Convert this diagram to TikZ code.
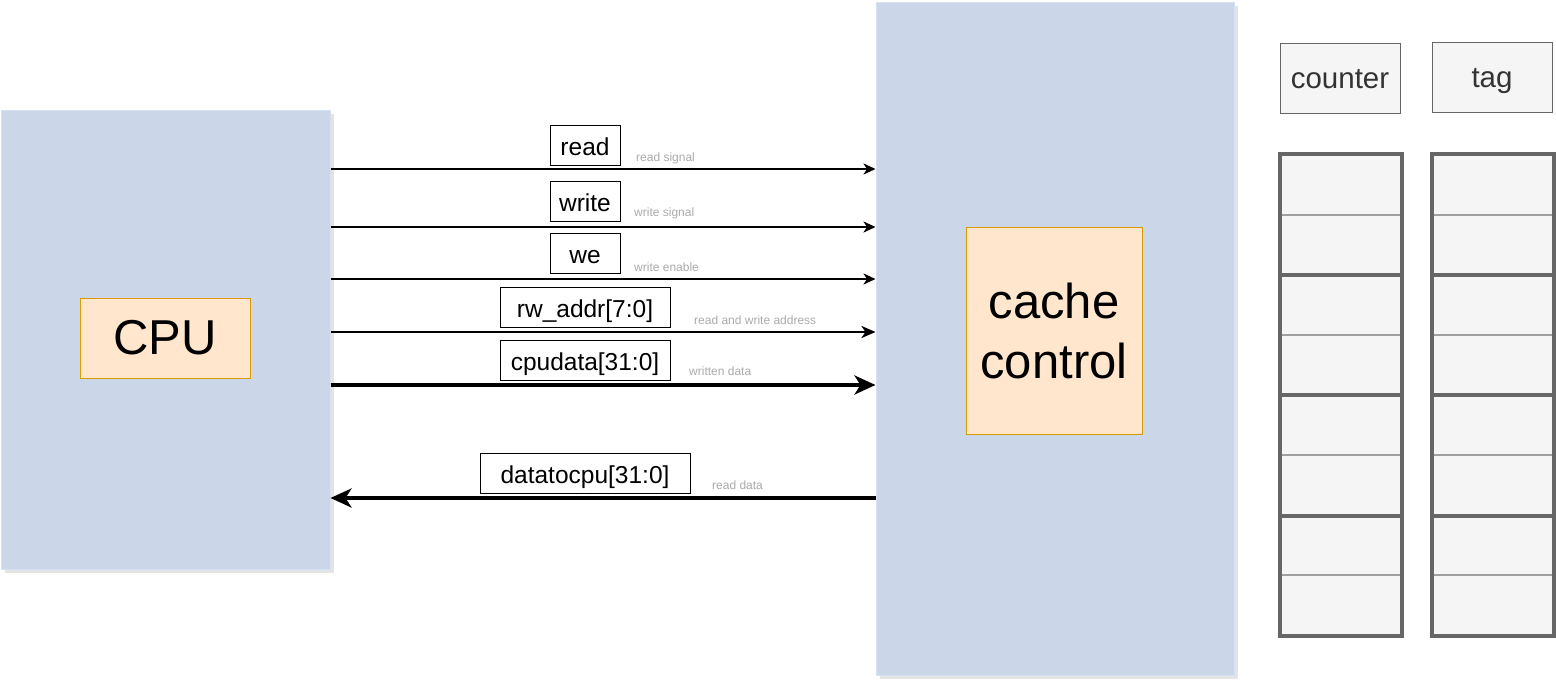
\documentclass[tikz,border=0pt]{standalone}
\usepackage{fontspec}
\setmainfont{Liberation Sans}
\usetikzlibrary{arrows.meta}
\definecolor{blk}{RGB}{203,214,232}
\definecolor{blkedge}{RGB}{214,225,243}
\definecolor{orfill}{RGB}{255,230,204}
\definecolor{oredge}{RGB}{215,155,0}
\definecolor{cellfill}{RGB}{245,245,245}
\definecolor{celledge}{RGB}{102,102,102}
\definecolor{thinline}{RGB}{160,160,160}
\definecolor{note}{RGB}{170,170,170}
\definecolor{shadow}{RGB}{228,228,228}
\tikzset{
  block/.style={rectangle, fill=blk, draw=blkedge, line width=1pt, inner sep=0pt},
  inbox/.style={rectangle, fill=orfill, draw=oredge, line width=1pt, inner sep=0pt, align=center},
  lbl/.style={rectangle, fill=white, draw=black, line width=1pt, inner sep=0pt, minimum height=40pt, text height=22pt, text depth=2pt, font=\fontsize{24.5}{28}\selectfont},
  notetxt/.style={inner sep=0pt, text=note, font=\fontsize{12}{14}\selectfont, anchor=west},
  hdr/.style={rectangle, fill=cellfill, draw=celledge, line width=1pt, inner sep=0pt, minimum width=120pt, minimum height=70pt, text height=24.5pt, text depth=3pt, text=black!80, font=\fontsize{29.5}{34}\selectfont},
  sig/.style={line width=2pt, -{Stealth[length=12pt,width=11pt,inset=3.5pt]}},
  bus/.style={line width=2.8pt, -{Stealth[length=14pt,width=12pt,inset=4pt]}},
  bigbus/.style={line width=4.2pt, -{Stealth[length=21pt,width=19pt,inset=6pt]}},
  grp/.style={draw=celledge, line width=4pt},
  cellsep/.style={draw=thinline, line width=1.5pt},
}
\begin{document}
\begin{tikzpicture}[x=1pt,y=-1pt]
\useasboundingbox (0,0) rectangle (1556,680);
% shadows
\fill[shadow] (5,114) rectangle (334,573);
\fill[shadow] (880,6) rectangle (1238,679);
% main blocks
\node[block, minimum width=329pt, minimum height=459pt] (cpu) at (165.5,339.5) {};
\node[block, minimum width=358pt, minimum height=673pt] (cc) at (1055,338.5) {};
\node[inbox, minimum width=170pt, minimum height=80pt, font=\fontsize{49}{56}\selectfont] (cpuin) at (165,338) {CPU};
\node[inbox, minimum width=176pt, minimum height=207pt, font=\fontsize{49}{60}\selectfont] (ccin) at (1054,330.5) {cache\\control};
% signals
\draw[sig] (cpu.east |- 0,169) -- (cc.west |- 0,169);
\draw[sig] (cpu.east |- 0,227) -- (cc.west |- 0,227);
\draw[sig] (cpu.east |- 0,279) -- (cc.west |- 0,279);
\draw[bus] (cpu.east |- 0,332) -- (cc.west |- 0,332);
\draw[bigbus] (cpu.east |- 0,385) -- (cc.west |- 0,385);
\draw[bigbus] (cc.west |- 0,498) -- (cpu.east |- 0,498);
% labels
\node[lbl, minimum width=70pt] (lread) at (585,145) {read};
\node[lbl, minimum width=70pt] (lwrite) at (585,201) {write};
\node[lbl, minimum width=70pt] (lwe) at (585,253) {we};
\node[lbl, minimum width=170pt] (laddr) at (585,307) {rw\_addr[7:0]};
\node[lbl, minimum width=170pt] (ldata) at (585,360) {cpudata[31:0]};
\node[lbl, minimum width=210pt] (lout) at (585,473) {datatocpu[31:0]};
\node[notetxt] (nread) at (636,158) {read signal};
\node[notetxt] (nwrite) at (634,213) {write signal};
\node[notetxt] (nwe) at (634,267) {write enable};
\node[notetxt] (naddr) at (694,320) {read and write address};
\node[notetxt] (ndata) at (689,371) {written data};
\node[notetxt] (nout) at (712,485) {read data};
% headers
\node[hdr] (counter) at (1340,78) {counter};
\node[hdr] (tag) at (1492,77) {tag};
% memory columns
\foreach \x/\nm in {1279.5/c, 1431.5/t} {
  \fill[cellfill] (\x,154) rectangle (\x+122,636);
  \foreach \y in {215,335,455,575} {
    \draw[cellsep] (\x,\y) -- (\x+122,\y);
  }
  \foreach \y in {154,274.5,395,515.5} {
    \draw[grp] (\x,\y) rectangle (\x+122,\y+120.5);
  }
}
\end{tikzpicture}
\end{document}
